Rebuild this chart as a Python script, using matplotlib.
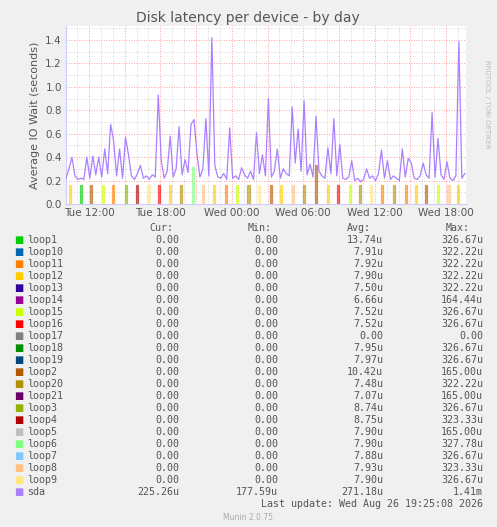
import matplotlib
matplotlib.use("Agg")
import matplotlib.pyplot as plt
import numpy as np

# sda latency, 15-minute steps starting Tue 10:04 (hours since Tue 00:00)
start_hour = 10.07
step_h = 0.25
sda = [0.22,0.30,0.40,0.24,0.21,0.22,0.21,0.40,0.22,0.41,
       0.25,0.40,0.23,0.47,0.26,0.68,0.54,0.24,0.47,0.22,
       0.57,0.42,0.24,0.21,0.26,0.33,0.22,0.24,0.21,0.25,
       0.23,0.93,0.37,0.22,0.28,0.58,0.23,0.30,0.66,0.25,
       0.38,0.27,0.68,0.72,0.43,0.23,0.30,0.73,0.24,1.42,
       0.33,0.23,0.22,0.26,0.21,0.65,0.22,0.24,0.21,0.31,
       0.25,0.22,0.28,0.21,0.61,0.26,0.42,0.24,0.90,0.23,
       0.28,0.47,0.22,0.30,0.26,0.24,0.83,0.35,0.64,0.28,
       0.88,0.25,0.34,0.23,0.75,0.28,0.24,0.22,0.48,0.26,
       0.73,0.24,0.51,0.22,0.21,0.23,0.37,0.20,0.22,0.19,
       0.21,0.30,0.22,0.24,0.20,0.26,0.46,0.22,0.37,0.21,
       0.24,0.22,0.20,0.47,0.23,0.39,0.35,0.22,0.21,0.24,
       0.35,0.25,0.22,0.78,0.23,0.56,0.25,0.21,0.36,0.22,
       0.20,0.24,1.39,0.22,0.26]

# loop device spikes: time (hours since Tue 00:00), device, height
spike_hours = [10.4,11.3,12.2,13.2,14.0,15.1,16.0,17.0,17.9,18.8,19.7,20.7,21.6,
               22.5,23.5,24.4,25.4,26.3,27.3,28.1,29.1,30.1,31.1,32.1,32.9,33.9,
               34.8,35.7,36.6,37.6,38.6,39.5,40.3,41.3,42.2,43.0]
spike_devs = ["loop12","loop1","loop2","loop15","loop11","loop3","loop4","loop9",
              "loop16","loop12","loop20","loop6","loop8","loop12","loop11","loop15",
              "loop20","loop9","loop2","loop12","loop8","loop20","loop2","loop12",
              "loop16","loop15","loop20","loop9","loop11","loop20","loop11","loop12",
              "loop2","loop15","loop8","loop12"]
spike_heights = [0.16,0.16,0.16,0.16,0.16,0.16,0.16,0.16,0.16,0.16,0.16,0.32,0.16,
                 0.16,0.16,0.16,0.16,0.16,0.16,0.16,0.16,0.16,0.33,0.16,0.16,0.16,
                 0.16,0.16,0.16,0.16,0.16,0.16,0.16,0.16,0.16,0.16]

names = ["loop1","loop10","loop11","loop12","loop13","loop14","loop15","loop16","loop17",
         "loop18","loop19","loop2","loop20","loop21","loop3","loop4","loop5","loop6",
         "loop7","loop8","loop9","sda"]
colors = ["#00CC00","#0066B3","#FF8000","#FFCC00","#330099","#990099","#CCFF00","#FF0000",
          "#808080","#008F00","#00487D","#B35A00","#B38F00","#6B006B","#8FB300","#B30000",
          "#BEBEBE","#80FF80","#80C9FF","#FFC080","#FFE680","#AA80FF"]
cur = ["0.00"]*21 + ["225.26u"]
mins = ["0.00"]*21 + ["177.59u"]
avgs = ["13.74u","7.91u","7.92u","7.90u","7.50u","6.66u","7.52u","7.52u","0.00","7.95u",
        "7.97u","10.42u","7.48u","7.07u","8.74u","8.75u","7.90u","7.90u","7.88u","7.93u",
        "7.90u","271.18u"]
maxs = ["326.67u","322.22u","322.22u","322.22u","322.22u","164.44u","326.67u","326.67u",
        "0.00","326.67u","326.67u","165.00u","322.22u","165.00u","326.67u","323.33u",
        "165.00u","327.78u","326.67u","323.33u","326.67u","1.41m"]
xticks = [12,18,24,30,36,42]
xticklabels = ["Tue 12:00","Tue 18:00","Wed 00:00","Wed 06:00","Wed 12:00","Wed 18:00"]

W, H = 497, 527
fig = plt.figure(figsize=(W/100, H/100), dpi=100, facecolor="#F0F0F0")
ax = fig.add_axes([66/W, 1-204/H, 400/W, 178/H], facecolor="white")
colmap = dict(zip(names, colors))
x0, x1 = start_hour, start_hour + 33.6
ax.set_xlim(x0, x1)
ax.set_ylim(0, 1.52)

for h in np.arange(11, 44, 1):
    ax.axvline(h, color=("#FF0000" if h % 3 == 0 else "#C8C8C8"), ls=(0,(1,2)), lw=0.6,
               alpha=0.5 if h % 3 == 0 else 1, zorder=0)
for v in np.arange(0.1, 1.51, 0.1):
    maj = abs(round(v*10) % 2) == 0
    ax.axhline(v, color=("#FF0000" if maj else "#C8C8C8"), ls=(0,(1,2)), lw=0.6,
               alpha=0.5 if maj else 1, zorder=0)

for h, d, ht in zip(spike_hours, spike_devs, spike_heights):
    ax.bar(h, ht, width=0.17, bottom=0, color=colmap[d], alpha=0.55,
           edgecolor=colmap[d], lw=0.9, zorder=2)

t = start_hour + step_h*np.arange(len(sda))
ax.plot(t, sda, color="#AA80FF", lw=0.9, zorder=3)

ax.set_xticks(xticks)
ax.set_xticklabels(xticklabels)
ax.set_yticks(np.arange(0, 1.41, 0.2))
ax.set_yticklabels([f"{v:.1f}" for v in np.arange(0, 1.41, 0.2)])
ax.tick_params(labelsize=7.5, colors="#555555", length=0, pad=3)
for s in ["top", "right"]:
    ax.spines[s].set_visible(False)
for s in ["left", "bottom"]:
    ax.spines[s].set_color("#CCCCFF")
ax.set_ylabel("Average IO Wait (seconds)", fontsize=8, color="#555555")

fig.text(248/W, 1-18/H, "Disk latency per device - by day", ha="center", va="center",
         fontsize=10, color="#555555")
fig.text(487/W, 1-60/H, "RRDTOOL / TOBI OETIKER", rotation=270, ha="center", va="top",
         fontsize=5, color="#BBBBBB")

mono = dict(family="DejaVu Sans Mono", fontsize=7.2, color="#555555", va="center")
yh = 1-228/H
for xx, lab in [(173, "Cur:"), (272, "Min:"), (371, "Avg:"), (470, "Max:")]:
    fig.text(xx/W, yh, lab, ha="right", **mono)
for i, n in enumerate(names):
    y = 1-(240+12.0*i)/H
    fig.text(14/W, y, "■", color=colors[i], fontsize=7, va="center")
    fig.text(27/W, y, n, ha="left", **mono)
    fig.text(179/W, y, cur[i], ha="right", **mono)
    fig.text(278/W, y, mins[i], ha="right", **mono)
    fig.text(383/W, y, avgs[i], ha="right", **mono)
    fig.text(483/W, y, maxs[i], ha="right", **mono)
fig.text(483/W, 1-504/H, "Last update: Wed Aug 26 19:25:08 2026", ha="right", **mono)
fig.text(248/W, 1-517/H, "Munin 2.0.75", ha="center", va="center", fontsize=5.5, color="#AAAAAA")

fig.savefig("out.png", dpi=100, facecolor=fig.get_facecolor())
